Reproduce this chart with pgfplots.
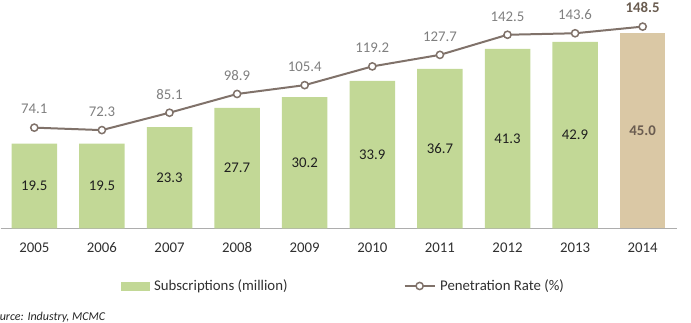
\documentclass[border=0pt]{standalone}
\usepackage{pgfplots}
\usepackage{pgfplotstable}
\pgfplotsset{compat=1.18}
\usepackage{fontspec}
\setmainfont{Carlito}

\definecolor{barG}{HTML}{C2D896}
\definecolor{barT}{HTML}{DAC8A5}
\definecolor{lineC}{HTML}{80726A}
\definecolor{lblGray}{HTML}{7F7F7F}
\definecolor{lblBrown}{HTML}{6A5C50}
\definecolor{tickC}{HTML}{303030}
\definecolor{axisC}{HTML}{ADADAD}

\pgfplotstableread{
x year sub rate
0 2005 19.5 74.1
1 2006 19.5 72.3
2 2007 23.3 85.1
3 2008 27.7 98.9
4 2009 30.2 105.4
5 2010 33.9 119.2
6 2011 36.7 127.7
7 2012 41.3 142.5
8 2013 42.9 143.6
9 2014 45.0 148.5
}\mobiledata

\newcommand{\lfont}{\fontsize{14.8}{17}\selectfont}

\begin{document}
\begin{tikzpicture}
\pgfplotsset{
  common/.style={
    scale only axis,
    width=676pt, height=217.3pt,
    at={(0.5pt,94.7pt)}, anchor=south west,
    xmin=-0.5, xmax=9.5,
    clip=false,
  },
}
% subscriptions (bars)
\begin{axis}[
  common,
  ymin=0, ymax=50,
  axis y line=none,
  axis x line*=bottom,
  x axis line style={draw=axisC, line width=1.3pt, -},
  xtick=data,
  xticklabels={2005,2006,2007,2008,2009,2010,2011,2012,2013,2014},
  major tick length=0pt,
  xticklabel style={font=\lfont, text=tickC, anchor=center, yshift=-19.7pt},
  legend columns=2,
  legend style={
    at={(axis description cs:0.1783,-0.2655)}, anchor=west,
    draw=none, fill=none, inner sep=0pt,
    nodes={inner sep=0pt, font=\lfont, text=tickC},
    /tikz/every odd column/.append style={column sep=4.5pt},
    /tikz/every even column/.append style={column sep=116pt},
  },
]
\addplot[ybar, bar width=45.5pt, bar shift=0pt, fill=barG, draw=none,
  restrict x to domain=0:8, forget plot]
  table[x=x, y=sub] {\mobiledata};
\addplot[ybar, bar width=45.5pt, bar shift=0pt, fill=barT, draw=none,
  restrict x to domain=9:9, forget plot]
  table[x=x, y=sub] {\mobiledata};
% value labels centred in the bars
\addplot[draw=none, mark=none, nodes near coords, point meta=explicit symbolic,
  restrict x to domain=0:8, forget plot,
  every node near coord/.append style={anchor=center, font=\lfont, text=black!88}]
  table[x=x, y expr=\thisrow{sub}/2, meta=sub] {\mobiledata};
\addplot[draw=none, mark=none, nodes near coords, point meta=explicit symbolic,
  restrict x to domain=9:9, forget plot,
  every node near coord/.append style={anchor=center, font=\lfont\bfseries, text=lblBrown}]
  table[x=x, y expr=\thisrow{sub}/2, meta=sub] {\mobiledata};
\addlegendimage{legend image code/.code={\fill[barG] (0pt,-4pt) rectangle (28pt,4pt);}}
\addlegendentry{Subscriptions (million)}
\addlegendimage{legend image code/.code={
  \draw[lineC, line width=2pt] (0pt,0pt) -- (30pt,0pt);
  \draw[lineC, line width=1.5pt, fill=white] (15pt,0pt) circle (3.6pt);}}
\addlegendentry{Penetration Rate (\%)}
\end{axis}

% penetration rate (line)
\begin{axis}[
  common,
  ymin=0, ymax=160,
  hide axis,
]
\addplot[lineC, line width=2pt, mark=*, mark size=3.6pt,
  mark options={fill=white, draw=lineC, line width=1.5pt}]
  table[x=x, y=rate] {\mobiledata};
\addplot[draw=none, mark=none, nodes near coords, point meta=explicit symbolic,
  restrict x to domain=0:8,
  every node near coord/.append style={anchor=center, yshift=18.5pt, font=\lfont, text=lblGray}]
  table[x=x, y=rate, meta=rate] {\mobiledata};
\addplot[draw=none, mark=none, nodes near coords, point meta=explicit symbolic,
  restrict x to domain=9:9,
  every node near coord/.append style={anchor=center, yshift=19.4pt, font=\lfont\bfseries, text=lblBrown}]
  table[x=x, y=rate, meta=rate] {\mobiledata};
\end{axis}

% source line, running off the left edge
\node[anchor=west, inner sep=0pt, font=\fontsize{12}{14}\selectfont\itshape, text=black!85]
  at (-12pt,6pt) {Source: Industry, MCMC};

\pgfresetboundingbox
\useasboundingbox (0pt,0pt) rectangle (691pt,323pt);
\end{tikzpicture}
\end{document}
